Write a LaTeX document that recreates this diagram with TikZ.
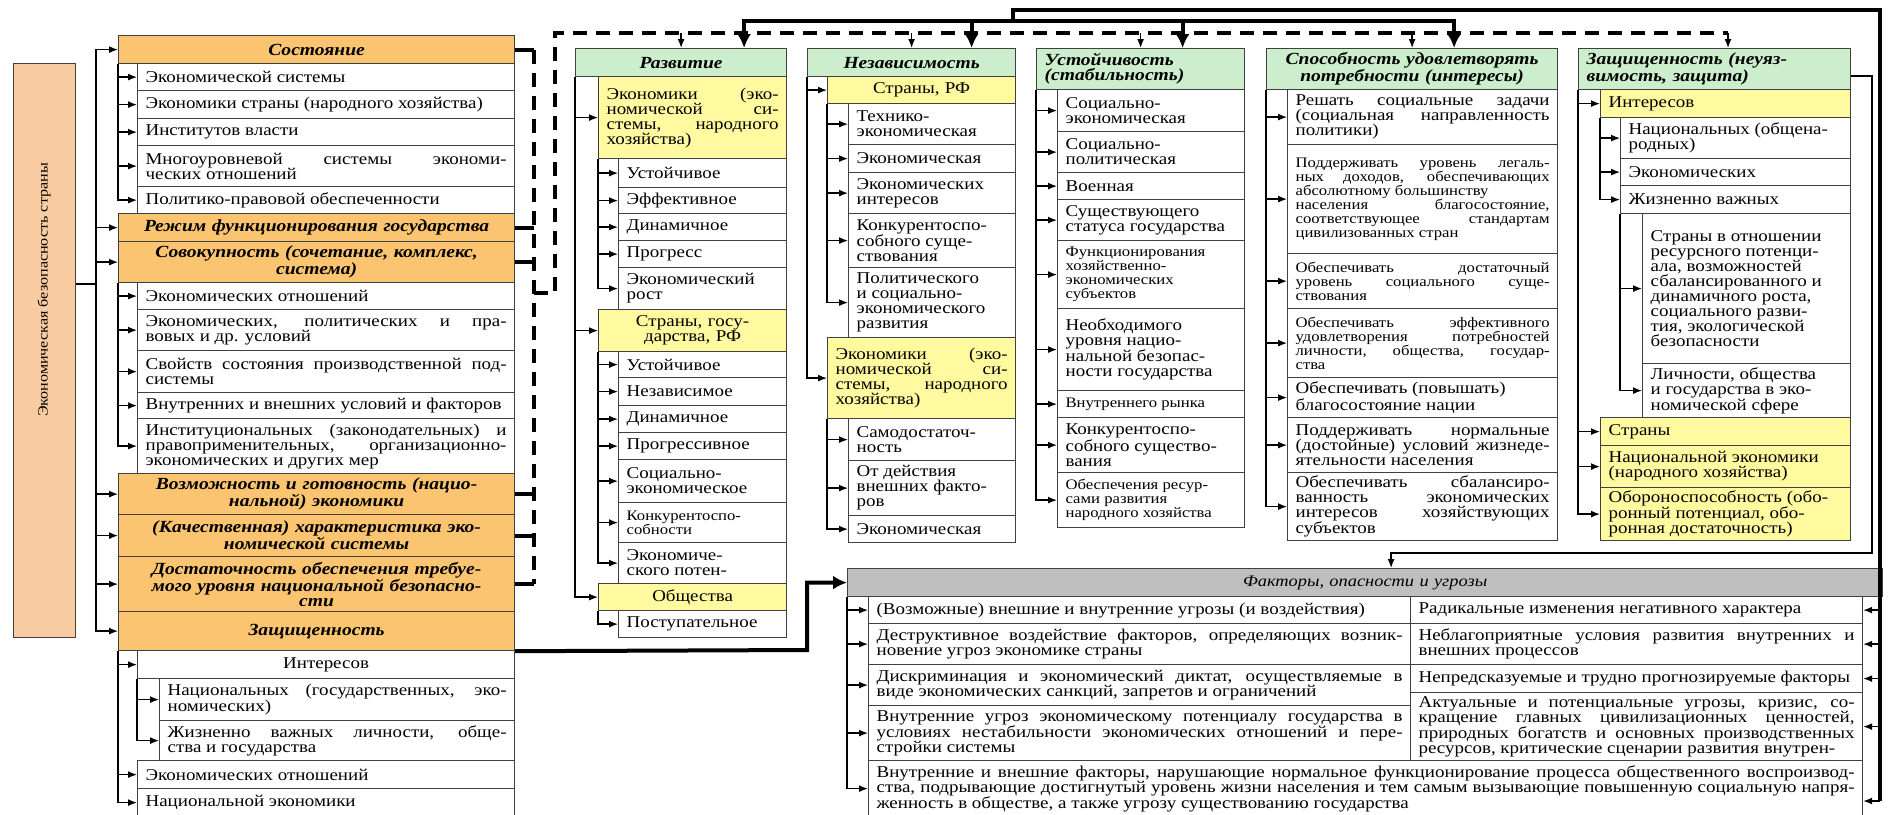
\documentclass[tikz,border=0pt]{standalone}
\usepackage{fontspec}
\setmainfont{Liberation Serif}[FakeStretch=1.15]
\usetikzlibrary{arrows.meta}
\definecolor{cOrange}{RGB}{250,196,112}
\definecolor{cPeach}{RGB}{249,203,160}
\definecolor{cGreen}{RGB}{204,238,204}
\definecolor{cYellow}{RGB}{255,250,160}
\definecolor{cGrey}{RGB}{191,191,191}

\begin{document}
\begin{tikzpicture}[x=1pt, y=-1pt,
    cell/.style={draw=black!75, line width=1.2pt, fill=white, anchor=north west, inner xsep=8pt, inner ysep=1pt, align=justify, font=\fontsize{16.5}{15}\selectfont},
    bw/.code={\pgfmathsetlengthmacro\cellw{#1pt-16pt}\tikzset{text width=\cellw}},
    bh/.style={minimum height=#1pt},
    hdr/.style={cell, fill=cOrange, align=center, font=\fontsize{17}{15}\selectfont\bfseries\itshape},
    ghdr/.style={cell, fill=cGreen, align=center, font=\fontsize{17}{15}\selectfont\bfseries\itshape},
    ybox/.style={cell, fill=cYellow},
    sm/.style={font=\fontsize{14.5}{14}\selectfont},
    line/.style={line width=1.3pt},
    arr/.style={line width=1.3pt, -{Latex[length=9pt,width=7pt]}},
    thk/.style={line width=4pt},
    thkarr/.style={line width=4pt, -{Latex[length=14pt,width=14pt]}},
    dsh/.style={line width=3.5pt, dash pattern=on 14pt off 9pt}]
\useasboundingbox (0,0) rectangle (1892,814);

    % --- Nodes ---

    % 1. Root (far left)
    \node[draw=black!75, line width=1.2pt, fill=cPeach, anchor=north west, minimum width=62pt, minimum height=574pt] (root) at (13,63) {};
    \node[rotate=90, font=\fontsize{14}{14}\selectfont] (roottxt) at (44,290) {Экономическая безопасность страны};

    % 2. Left column
    \node[hdr, bw=396, bh=28] (sost) at (118,35) {Состояние};
    \node[cell, bw=377, bh=27] (sost1) at (137,63) {Экономической системы};
    \node[cell, bw=377, bh=28] (sost2) at (137,90) {Экономики страны (народного хозяйства)};
    \node[cell, bw=377, bh=27] (sost3) at (137,118) {Институтов власти};
    \node[cell, bw=377, bh=41] (sost4) at (137,145) {Многоуровневой системы экономи-\linebreak ческих отношений};
    \node[cell, bw=377, bh=27] (sost5) at (137,186) {Политико-правовой обеспеченности};
    \node[hdr, bw=396, bh=28] (rezh) at (118,213) {Режим функционирования государства};
    \node[hdr, bw=396, bh=41] (sovok) at (118,241) {Совокупность (сочетание, комплекс,\\система)};
    \node[cell, bw=377, bh=27] (sov1) at (137,282) {Экономических отношений};
    \node[cell, bw=377, bh=41] (sov2) at (137,309) {Экономических, политических и пра-\linebreak вовых и др. условий};
    \node[cell, bw=377, bh=42] (sov3) at (137,350) {Свойств состояния производственной под-\linebreak системы};
    \node[cell, bw=377, bh=26] (sov4) at (137,392) {Внутренних и внешних условий и факторов};
    \node[cell, bw=377, bh=55] (sov5) at (137,418) {Институциональных (законодательных) и\linebreak правоприменительных, организационно-\linebreak экономических и других мер};
    \node[hdr, bw=396, bh=41] (vozm) at (118,473) {Возможность и готовность (нацио-\\нальной) экономики};
    \node[hdr, bw=396, bh=42] (kach) at (118,514) {(Качественная) характеристика эко-\\номической системы};
    \node[hdr, bw=396, bh=55] (dost) at (118,556) {Достаточность обеспечения требуе-\\мого уровня национальной безопасно-\\сти};
    \node[hdr, bw=396, bh=39] (zasch) at (118,611) {Защищенность};
    \node[cell, bw=377, bh=28, align=center] (zasch1) at (137,650) {Интересов};
    \node[cell, bw=355, bh=42] (zasch2) at (159,678) {Национальных (государственных, эко-\linebreak номических)};
    \node[cell, bw=355, bh=40] (zasch3) at (159,720) {Жизненно важных личности, обще-\linebreak ства и государства};
    \node[cell, bw=377, bh=28] (zasch4) at (137,760) {Экономических отношений};
    \node[cell, bw=377, bh=28] (zasch5) at (137,788) {Национальной экономики};

    % 3. Development
    \node[ghdr, bw=211, bh=28] (razv) at (575,48) {Развитие};
    \node[ybox, bw=188, bh=82] (razv1) at (598,76) {Экономики (эко-\linebreak номической си-\linebreak стемы, народного\linebreak хозяйства)};
    \node[cell, bw=168, bh=29] (razv2) at (618,158) {Устойчивое};
    \node[cell, bw=168, bh=26] (razv3) at (618,187) {Эффективное};
    \node[cell, bw=168, bh=27] (razv4) at (618,213) {Динамичное};
    \node[cell, bw=168, bh=27] (razv5) at (618,240) {Прогресс};
    \node[cell, bw=168, bh=42] (razv6) at (618,267) {Экономический\\рост};
    \node[ybox, bw=188, bh=42, align=center] (razv7) at (598,309) {Страны, госу-\\дарства, РФ};
    \node[cell, bw=168, bh=26] (razv8) at (618,351) {Устойчивое};
    \node[cell, bw=168, bh=28] (razv9) at (618,377) {Независимое};
    \node[cell, bw=168, bh=27] (razv10) at (618,405) {Динамичное};
    \node[cell, bw=168, bh=27] (razv11) at (618,432) {Прогрессивное};
    \node[cell, bw=168, bh=43] (razv12) at (618,459) {Социально-\\экономическое};
    \node[cell, sm, bw=168, bh=40] (razv13) at (618,502) {Конкурентоспо-\\собности};
    \node[cell, bw=168, bh=41] (razv14) at (618,542) {Экономиче-\\ского потен-};
    \node[ybox, bw=188, bh=27, align=center] (razv15) at (598,583) {Общества};
    \node[cell, bw=168, bh=27] (razv16) at (618,610) {Поступательное};

    % 4. Independence
    \node[ghdr, bw=208, bh=28] (nez) at (807,48) {Независимость};
    \node[ybox, bw=188, bh=27, align=center] (nez1) at (827,76) {Страны, РФ};
    \node[cell, bw=167, bh=41] (nez2) at (848,103) {Технико-\\экономическая};
    \node[cell, bw=167, bh=28] (nez3) at (848,144) {Экономическая};
    \node[cell, bw=167, bh=41] (nez4) at (848,172) {Экономических\\интересов};
    \node[cell, bw=167, bh=54] (nez5) at (848,213) {Конкурентоспо-\\собного суще-\\ствования};
    \node[cell, bw=167, bh=70] (nez6) at (848,267) {Политического\\и социально-\\экономического\\развития};
    \node[ybox, bw=188, bh=81] (nez7) at (827,337) {Экономики (эко-\linebreak номической си-\linebreak стемы, народного\linebreak хозяйства)};
    \node[cell, bw=167, bh=42] (nez8) at (848,418) {Самодостаточ-\\ность};
    \node[cell, bw=167, bh=55] (nez9) at (848,460) {От действия\\внешних факто-\\ров};
    \node[cell, bw=167, bh=27] (nez10) at (848,515) {Экономическая};

    % 5. Stability
    \node[ghdr, bw=208, bh=41, align=left] (ust) at (1036,48) {Устойчивость\\(стабильность)};
    \node[cell, bw=187, bh=42] (ust1) at (1057,89) {Социально-\\экономическая};
    \node[cell, bw=187, bh=41] (ust2) at (1057,131) {Социально-\\политическая};
    \node[cell, bw=187, bh=27] (ust3) at (1057,172) {Военная};
    \node[cell, bw=187, bh=41] (ust4) at (1057,199) {Существующего\\статуса государства};
    \node[cell, sm, bw=187, bh=68] (ust5) at (1057,240) {Функционирования\\хозяйственно-\\экономических\\субъектов};
    \node[cell, bw=187, bh=82] (ust6) at (1057,308) {Необходимого\\уровня нацио-\\нальной безопас-\\ности государства};
    \node[cell, sm, bw=187, bh=27] (ust7) at (1057,390) {Внутреннего рынка};
    \node[cell, bw=187, bh=55] (ust8) at (1057,417) {Конкурентоспо-\\собного существо-\\вания};
    \node[cell, sm, bw=187, bh=55] (ust9) at (1057,472) {Обеспечения ресур-\\сами развития\\народного хозяйства};

    % 6. Ability to meet needs
    \node[ghdr, bw=291, bh=41] (spos) at (1266,48) {Способность удовлетворять\\потребности (интересы)};
    \node[cell, bw=270, bh=55] (spos1) at (1287,89) {Решать социальные задачи\linebreak (социальная направленность\linebreak политики)};
    \node[cell, sm, bw=270, bh=109] (spos2) at (1287,144) {Поддерживать уровень легаль-\linebreak ных доходов, обеспечивающих\linebreak абсолютному большинству\\населения благосостояние,\linebreak соответствующее стандартам\linebreak цивилизованных стран};
    \node[cell, sm, bw=270, bh=55] (spos3) at (1287,253) {Обеспечивать достаточный\linebreak уровень социального суще-\linebreak ствования};
    \node[cell, sm, bw=270, bh=69] (spos4) at (1287,308) {Обеспечивать эффективного\linebreak удовлетворения потребностей\linebreak личности, общества, государ-\linebreak ства};
    \node[cell, bw=270, bh=40] (spos5) at (1287,377) {Обеспечивать (повышать)\\благосостояние нации};
    \node[cell, bw=270, bh=55] (spos6) at (1287,417) {Поддерживать нормальные\linebreak (достойные) условий жизнеде-\linebreak ятельности населения};
    \node[cell, bw=270, bh=68] (spos7) at (1287,472) {Обеспечивать сбалансиро-\linebreak ванность экономических\linebreak интересов хозяйствующих\linebreak субъектов};

    % 7. Security (invulnerability)
    \node[ghdr, bw=272, bh=41, align=left] (neuz) at (1578,48) {Защищенность (неуяз-\\вимость, защита)};
    \node[ybox, bw=250, bh=28] (neuz1) at (1600,89) {Интересов};
    \node[cell, bw=230, bh=41] (neuz2) at (1620,117) {Национальных (общена-\\родных)};
    \node[cell, bw=230, bh=27] (neuz3) at (1620,158) {Экономических};
    \node[cell, bw=230, bh=28] (neuz4) at (1620,185) {Жизненно важных};
    \node[cell, bw=208, bh=150] (neuz5) at (1642,213) {Страны в отношении\\ресурсного потенци-\\ала, возможностей\\сбалансированного и\\динамичного роста,\\социального разви-\\тия, экологической\\безопасности};
    \node[cell, bw=208, bh=54] (neuz6) at (1642,363) {Личности, общества\\и государства в эко-\\номической сфере};
    \node[ybox, bw=250, bh=28] (neuz7) at (1600,417) {Страны};
    \node[ybox, bw=250, bh=42] (neuz8) at (1600,445) {Национальной экономики\\(народного хозяйства)};
    \node[ybox, bw=250, bh=53] (neuz9) at (1600,487) {Обороноспособность (обо-\\ронный потенциал, обо-\\ронная достаточность)};

    % 8. Factors, dangers and threats (Bottom Right)
    \node[cell, fill=cGrey, bw=1035, bh=28, align=center, font=\fontsize{16}{15}\selectfont\itshape] (fakt) at (847,568) {Факторы, опасности и угрозы};
    \node[cell, bw=542, bh=27] (fakt1) at (868,596) {(Возможные) внешние и внутренние угрозы (и воздействия)};
    \node[cell, bw=542, bh=41] (fakt2) at (868,623) {Деструктивное воздействие факторов, определяющих возник-\linebreak новение угроз экономике страны};
    \node[cell, bw=542, bh=41] (fakt3) at (868,664) {Дискриминация и экономический диктат, осуществляемые в\linebreak виде экономических санкций, запретов и ограничений};
    \node[cell, bw=542, bh=55] (fakt4) at (868,705) {Внутренние угроз экономическому потенциалу государства в\linebreak условиях нестабильности экономических отношений и пере-\linebreak стройки системы};
    \node[cell, bw=994, bh=56] (fakt5) at (868,760) {Внутренние и внешние факторы, нарушающие нормальное функционирование процесса общественного воспроизвод-\linebreak ства, подрывающие достигнутый уровень жизни населения и тем самым вызывающие повышенную социальную напря-\linebreak женность в обществе, а также угрозу существованию государства};
    \node[cell, bw=452, bh=27] (ugr1) at (1410,596) {Радикальные изменения негативного характера};
    \node[cell, bw=452, bh=41] (ugr2) at (1410,623) {Неблагоприятные условия развития внутренних и\linebreak внешних процессов};
    \node[cell, bw=452, bh=28] (ugr3) at (1410,664) {Непредсказуемые и трудно прогнозируемые факторы};
    \node[cell, bw=452, bh=68] (ugr4) at (1410,692) {Актуальные и потенциальные угрозы, кризис, со-\linebreak кращение главных цивилизационных ценностей,\linebreak природных богатств и основных производственных\linebreak ресурсов, критические сценарии развития внутрен-};

    % --- Arrows ---

    % Root to the left column
    \coordinate (lbus) at (96,284);
    \draw[line] (root.east |- lbus) -- (lbus);
    \draw[arr] (lbus) |- (sost.west);
    \draw[arr] (lbus) |- (rezh.west);
    \draw[arr] (lbus) |- (sovok.west);
    \draw[arr] (lbus) |- (vozm.west);
    \draw[arr] (lbus) |- (kach.west);
    \draw[arr] (lbus) |- (dost.west);
    \draw[arr] (lbus) |- (zasch.west);

    % Left column sub-items
    \draw[arr] (sost.south west) |- (sost1.west);
    \draw[arr] (sost.south west) |- (sost2.west);
    \draw[arr] (sost.south west) |- (sost3.west);
    \draw[arr] (sost.south west) |- (sost4.west);
    \draw[arr] (sost.south west) |- (sost5.west);
    \draw[arr] (sovok.south west) |- (sov1.west);
    \draw[arr] (sovok.south west) |- (sov2.west);
    \draw[arr] (sovok.south west) |- (sov3.west);
    \draw[arr] (sovok.south west) |- (sov4.west);
    \draw[arr] (sovok.south west) |- (sov5.west);
    \draw[arr] (zasch.south west) |- (zasch1.west);
    \draw[arr] (zasch.south west) |- (zasch4.west);
    \draw[arr] (zasch.south west) |- (zasch5.west);
    \draw[arr] (zasch1.south west) |- (zasch2.west);
    \draw[arr] (zasch1.south west) |- (zasch3.west);

    % Dashed link (left column to the five headers)
    \coordinate (dbus) at (534,293);
    \coordinate (dtl) at (555,33);
    \coordinate (dtr) at (1728,33);
    \draw[thk] (sost.east) -- (sost.east -| dbus);
    \draw[thk] (rezh.east) -- (rezh.east -| dbus);
    \draw[thk] (sovok.east) -- (sovok.east -| dbus);
    \draw[thk] (vozm.east) -- (vozm.east -| dbus);
    \draw[thk] (kach.east) -- (kach.east -| dbus);
    \draw[thk] (dost.east) -- (dost.east -| dbus);
    \draw[dsh] (sost.east -| dbus) -- (dost.east -| dbus);
    \draw[dsh] (dbus) -| (dtl) -- (dtr);
    \draw[arr] (razv.north |- dtl) -- (razv.north);
    \draw[arr] (nez.north |- dtl) -- (nez.north);
    \draw[arr] (ust.north |- dtl) -- (ust.north);
    \draw[arr] (spos.north |- dtl) -- (spos.north);
    \draw[arr] (dtr) -- (dtr |- neuz.north);

    % Thick link from the right edge to four headers
    \coordinate (ttop) at (1013,10);
    \coordinate (tmid) at (1013,21);
    \coordinate (tcor) at (1880,10);
    \coordinate (tbot) at (1880,801);
    \draw[thk] (tmid) -- (ttop) -- (tcor) -- (tbot);
    \draw[thkarr] (tmid) -| ([xshift=63pt]razv.north);
    \draw[thkarr] (tmid) -| ([xshift=60pt]nez.north);
    \draw[thkarr] (tmid) -| ([xshift=42pt]ust.north);
    \draw[thkarr] (tmid) -| ([xshift=42pt]spos.north);

    % Development column
    \draw[arr] (razv.south west) |- (razv1.west);
    \draw[arr] (razv.south west) |- (razv7.west);
    \draw[arr] (razv.south west) |- (razv15.west);
    \draw[arr] (razv1.south west) |- (razv2.west);
    \draw[arr] (razv1.south west) |- (razv3.west);
    \draw[arr] (razv1.south west) |- (razv4.west);
    \draw[arr] (razv1.south west) |- (razv5.west);
    \draw[arr] (razv1.south west) |- (razv6.west);
    \draw[arr] (razv7.south west) |- (razv8.west);
    \draw[arr] (razv7.south west) |- (razv9.west);
    \draw[arr] (razv7.south west) |- (razv10.west);
    \draw[arr] (razv7.south west) |- (razv11.west);
    \draw[arr] (razv7.south west) |- (razv12.west);
    \draw[arr] (razv7.south west) |- (razv13.west);
    \draw[arr] (razv7.south west) |- (razv14.west);
    \draw[arr] (razv15.south west) |- (razv16.west);

    % Independence column
    \draw[arr] (nez.south west) |- (nez1.west);
    \draw[arr] (nez.south west) |- (nez7.west);
    \draw[arr] (nez1.south west) |- (nez2.west);
    \draw[arr] (nez1.south west) |- (nez3.west);
    \draw[arr] (nez1.south west) |- (nez4.west);
    \draw[arr] (nez1.south west) |- (nez5.west);
    \draw[arr] (nez1.south west) |- (nez6.west);
    \draw[arr] (nez7.south west) |- (nez8.west);
    \draw[arr] (nez7.south west) |- (nez9.west);
    \draw[arr] (nez7.south west) |- (nez10.west);

    % Stability column
    \draw[arr] (ust.south west) |- (ust1.west);
    \draw[arr] (ust.south west) |- (ust2.west);
    \draw[arr] (ust.south west) |- (ust3.west);
    \draw[arr] (ust.south west) |- (ust4.west);
    \draw[arr] (ust.south west) |- (ust5.west);
    \draw[arr] (ust.south west) |- (ust6.west);
    \draw[arr] (ust.south west) |- (ust7.west);
    \draw[arr] (ust.south west) |- (ust8.west);
    \draw[arr] (ust.south west) |- (ust9.west);

    % Ability column
    \draw[arr] (spos.south west) |- (spos1.west);
    \draw[arr] (spos.south west) |- (spos2.west);
    \draw[arr] (spos.south west) |- (spos3.west);
    \draw[arr] (spos.south west) |- (spos4.west);
    \draw[arr] (spos.south west) |- (spos5.west);
    \draw[arr] (spos.south west) |- (spos6.west);
    \draw[arr] (spos.south west) |- (spos7.west);

    % Security column
    \draw[arr] (neuz.south west) |- (neuz1.west);
    \draw[arr] (neuz.south west) |- (neuz7.west);
    \draw[arr] (neuz.south west) |- (neuz8.west);
    \draw[arr] (neuz.south west) |- (neuz9.west);
    \draw[arr] (neuz1.south west) |- (neuz2.west);
    \draw[arr] (neuz1.south west) |- (neuz3.west);
    \draw[arr] (neuz1.south west) |- (neuz4.west);
    \draw[arr] (neuz4.south west) |- (neuz5.west);
    \draw[arr] (neuz4.south west) |- (neuz6.west);

    % Security column down to the factors
    \coordinate (nzr) at (1872,553);
    \draw[arr] ([yshift=-7pt]neuz.east) -| (nzr) -| ([xshift=26pt]fakt.north);

    % Left column (protection) to the factors
    \coordinate (fj) at (807,650);
    \draw[thkarr] (zasch.south east) -- (fj) |- (fakt.west);

    % Factors: left and right buses
    \draw[arr] (fakt.south west) |- (fakt1.west);
    \draw[arr] (fakt.south west) |- (fakt2.west);
    \draw[arr] (fakt.south west) |- (fakt3.west);
    \draw[arr] (fakt.south west) |- (fakt4.west);
    \draw[arr] (fakt.south west) |- (fakt5.west);
    \draw[arr] (tcor |- ugr1.east) -- (ugr1.east);
    \draw[arr] (tcor |- ugr2.east) -- (ugr2.east);
    \draw[arr] (tcor |- ugr3.east) -- (ugr3.east);
    \draw[arr] (tcor |- ugr4.east) -- (ugr4.east);
    \draw[arr] (tbot) -- (tbot -| fakt5.east);

\end{tikzpicture}
\end{document}
